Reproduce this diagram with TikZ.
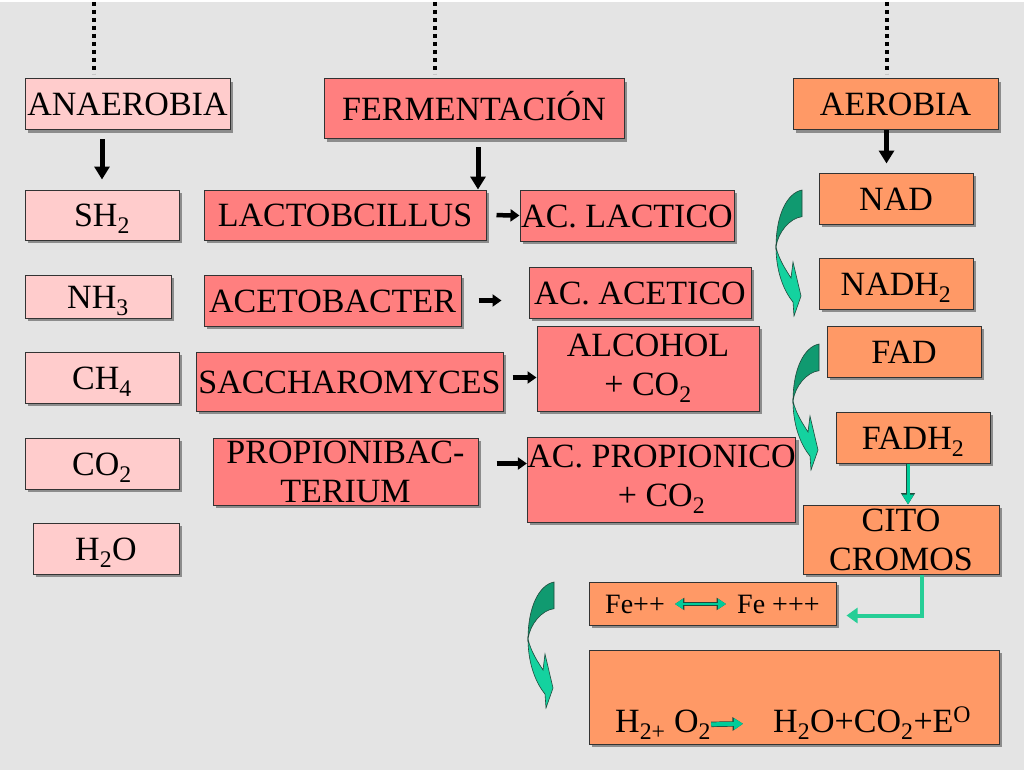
\documentclass[tikz,border=0pt]{standalone}
\usepackage{fontspec}
\setmainfont{Liberation Serif}
\usepackage{tikz}
\usetikzlibrary{positioning,arrows.meta,shadows}
\definecolor{slide}{HTML}{E4E4E4}
\definecolor{pinkbox}{HTML}{FFCCCC}
\definecolor{redbox}{HTML}{FF7F7F}
\definecolor{orangebox}{HTML}{FF9966}
\definecolor{turndark}{HTML}{109A70}
\definecolor{turnlight}{HTML}{14D29F}
\definecolor{tealgreen}{HTML}{00CC99}
\definecolor{linegreen}{HTML}{26CE96}
\definecolor{greenedge}{HTML}{1F4A3C}

% curved green arrow, origin at the top of its tail
\tikzset{
  greencurve/.pic={
    \filldraw[fill=turndark, draw=greenedge, line width=0.6pt]
      (0,0) .. controls (-15,3) and (-26,25) .. (-26,57)
      .. controls (-24,42) and (-12,28) .. (0,26.7) -- cycle;
    \filldraw[fill=turnlight, draw=greenedge, line width=0.6pt]
      (-26,57) .. controls (-26,80) and (-19,100) .. (-9,112)
      -- (-8,126) -- (-1,106) -- (-9,72) -- (-11,88)
      .. controls (-16,80) and (-23,70) .. (-26,57) -- cycle;
  }
}

\begin{document}
\begin{tikzpicture}[x=1pt, y=-1pt,
      slidebox/.style={rectangle, draw=black!80, line width=1pt, inner sep=0pt, align=center,
        font=\fontsize{34}{39}\selectfont,
        drop shadow={shadow xshift=3pt, shadow yshift=-3pt, fill=black!45, opacity=1}},
      anabox/.style={slidebox, fill=pinkbox},
      fermbox/.style={slidebox, fill=redbox},
      aerobox/.style={slidebox, fill=orangebox},
      oneline/.style={text height=23pt, text depth=0pt},
      smalltxt/.style={inner sep=0pt, font=\fontsize{28}{32}\selectfont},
      bigtxt/.style={inner sep=0pt, font=\fontsize{34}{39}\selectfont},
      dotline/.style={line width=4pt, dash pattern=on 4pt off 4pt},
      bigarr/.style={line width=5pt, -{Triangle[length=13pt,width=15pt]}},
      smallarr/.style={line width=4.5pt, -{Triangle[length=9pt,width=12pt]}},
      greendown/.style={line width=3pt, draw=tealgreen, -{Triangle[length=10pt,width=11pt]},
        preaction={draw=greenedge, line width=4.6pt, -{Triangle[length=11.5pt,width=13.5pt]}}},
      greenboth/.style={line width=2.6pt, draw=tealgreen, {Triangle[length=8pt,width=10pt]}-{Triangle[length=8pt,width=10pt]},
        preaction={draw=greenedge, line width=4pt, {Triangle[length=9.5pt,width=12pt]}-{Triangle[length=9.5pt,width=12pt]}}},
      greenright/.style={line width=4pt, draw=tealgreen, -{Triangle[length=9pt,width=11pt]},
        preaction={draw=greenedge, line width=5.4pt, -{Triangle[length=10.5pt,width=13pt]}}},
      greenline/.style={line width=4pt, draw=linegreen, -{Triangle[length=11pt,width=15pt]}}
      ]
      \fill[slide] (0,0) rectangle (1024,768);

      % dotted lines from above
      \coordinate (topA) at (94,0);
      \coordinate (endA) at (94,72);
      \coordinate (topF) at (435,0);
      \coordinate (endF) at (435,72);
      \coordinate (topR) at (887,0);
      \coordinate (endR) at (887,72);
      \draw[dotline] (topA) -- (endA);
      \draw[dotline] (topF) -- (endF);
      \draw[dotline] (topR) -- (endR);

      % headings
      \node[anabox, oneline, minimum width=205pt, minimum height=51pt] (ANA) at (127.5,102.5) {ANAEROBIA};
      \node[fermbox, oneline, minimum width=300pt, minimum height=60pt] (FER) at (474,107) {FERMENTACIÓN};
      \node[aerobox, oneline, minimum width=205pt, minimum height=51pt] (AER) at (895.5,102.5) {AEROBIA};

      % anaerobia
      \node[anabox, oneline, minimum width=154pt, minimum height=50pt] (SH) at (102,213) {SH\textsubscript{2}};
      \node[anabox, oneline, minimum width=146pt, minimum height=43pt] (NH) at (98,294.5) {NH\textsubscript{3}};
      \node[anabox, oneline, minimum width=154pt, minimum height=51pt] (CH) at (102,375.5) {CH\textsubscript{4}};
      \node[anabox, oneline, minimum width=154pt, minimum height=51pt] (CO) at (102,461.5) {CO\textsubscript{2}};
      \node[anabox, oneline, minimum width=146pt, minimum height=51pt] (HO) at (106,546.5) {H\textsubscript{2}O};

      % fermentacion
      \node[fermbox, oneline, minimum width=282pt, minimum height=50pt] (LAC) at (345,213) {LACTOBCILLUS};
      \node[fermbox, oneline, minimum width=257pt, minimum height=51pt] (ACE) at (332.5,298.5) {ACETOBACTER};
      \node[fermbox, oneline, minimum width=307pt, minimum height=59pt] (SAC) at (349.5,379.5) {SACCHAROMYCES};
      \node[fermbox, minimum width=265pt, minimum height=67pt] (PRO) at (345.5,469.5) {PROPIONIBAC-\\TERIUM};
      \node[fermbox, oneline, minimum width=214pt, minimum height=51pt] (ACL) at (627,213.5) {AC. LACTICO};
      \node[fermbox, oneline, minimum width=222pt, minimum height=51pt] (ACA) at (640,290.5) {AC. ACETICO};
      \node[fermbox, minimum width=222pt, minimum height=85pt] (ALC) at (648,366.5) {ALCOHOL\\+ CO\textsubscript{2}};
      \node[fermbox, minimum width=265pt, minimum height=85pt] (APR) at (661.5,477.5) {AC. PROPIONICO\\+ CO\textsubscript{2}};

      % aerobia
      \node[aerobox, oneline, minimum width=154pt, minimum height=51pt] (NAD) at (896,196.5) {NAD};
      \node[aerobox, oneline, minimum width=154pt, minimum height=51pt] (NADH) at (896,281.5) {NADH\textsubscript{2}};
      \node[aerobox, oneline, minimum width=154pt, minimum height=51pt] (FAD) at (904,349.5) {FAD};
      \node[aerobox, oneline, minimum width=154pt, minimum height=51pt] (FADH) at (913,435.5) {FADH\textsubscript{2}};
      \node[aerobox, minimum width=196pt, minimum height=69pt] (CIT) at (901,537.5) {CITO\\CROMOS};
      \node[aerobox, minimum width=247pt, minimum height=43pt] (FEB) at (712.5,601.5) {};
      \node[aerobox, minimum width=410pt, minimum height=94pt] (BIG) at (794,695) {};
      \node[smalltxt, anchor=base west] (FE2) at (605,611) {Fe++};
      \node[smalltxt, anchor=base west] (FE3) at (737,611) {Fe +++};
      \node[bigtxt, anchor=base west] (HOX) at (615,730) {H\textsubscript{2+} O\textsubscript{2}};
      \node[bigtxt, anchor=base west] (PRD) at (773,730) {H\textsubscript{2}O+CO\textsubscript{2}+E\textsuperscript{O}};

      % black arrows
      \draw[bigarr, shorten <=9pt, shorten >=10pt] (ANA.south -| SH.north) -- (SH.north);
      \draw[bigarr, shorten <=8pt] ([xshift=4pt]FER.south) -- ([xshift=4pt]FER.south |- LAC.north);
      \draw[bigarr, shorten >=9pt] ([xshift=-9pt]AER.south) -- ([xshift=-9pt]AER.south |- NAD.north);
      \draw[smallarr, shorten <=10pt] (LAC.east) -- (ACL.west);
      \draw[smallarr, shorten <=17pt, shorten >=27pt] (ACE.east) -- (ACE.east -| ACA.west);
      \draw[smallarr, shorten <=9pt] ([yshift=4pt]SAC.east) -- ([yshift=4pt]SAC.east -| ALC.west);
      \draw[smallarr, shorten <=18pt] ([yshift=8pt]PRO.east) -- ([yshift=8pt]PRO.east -| APR.west);

      % green arrows
      \draw[greendown] ([xshift=-5pt]FADH.south) -- ([xshift=-5pt]FADH.south |- CIT.north);
      \draw[greenline, shorten >=10pt] ([xshift=21pt]CIT.south) |- ([yshift=-12pt]FEB.east);
      \draw[greenboth, shorten <=10pt, shorten >=11pt] (FE2.east) -- (FE3.west);
      \draw[greenright, shorten >=30pt] (HOX.east) -- (PRD.west);

      \pic at (802,188) {greencurve};
      \pic at (819,342) {greencurve};
      \pic at (554,580) {greencurve};
    \end{tikzpicture}
\end{document}
